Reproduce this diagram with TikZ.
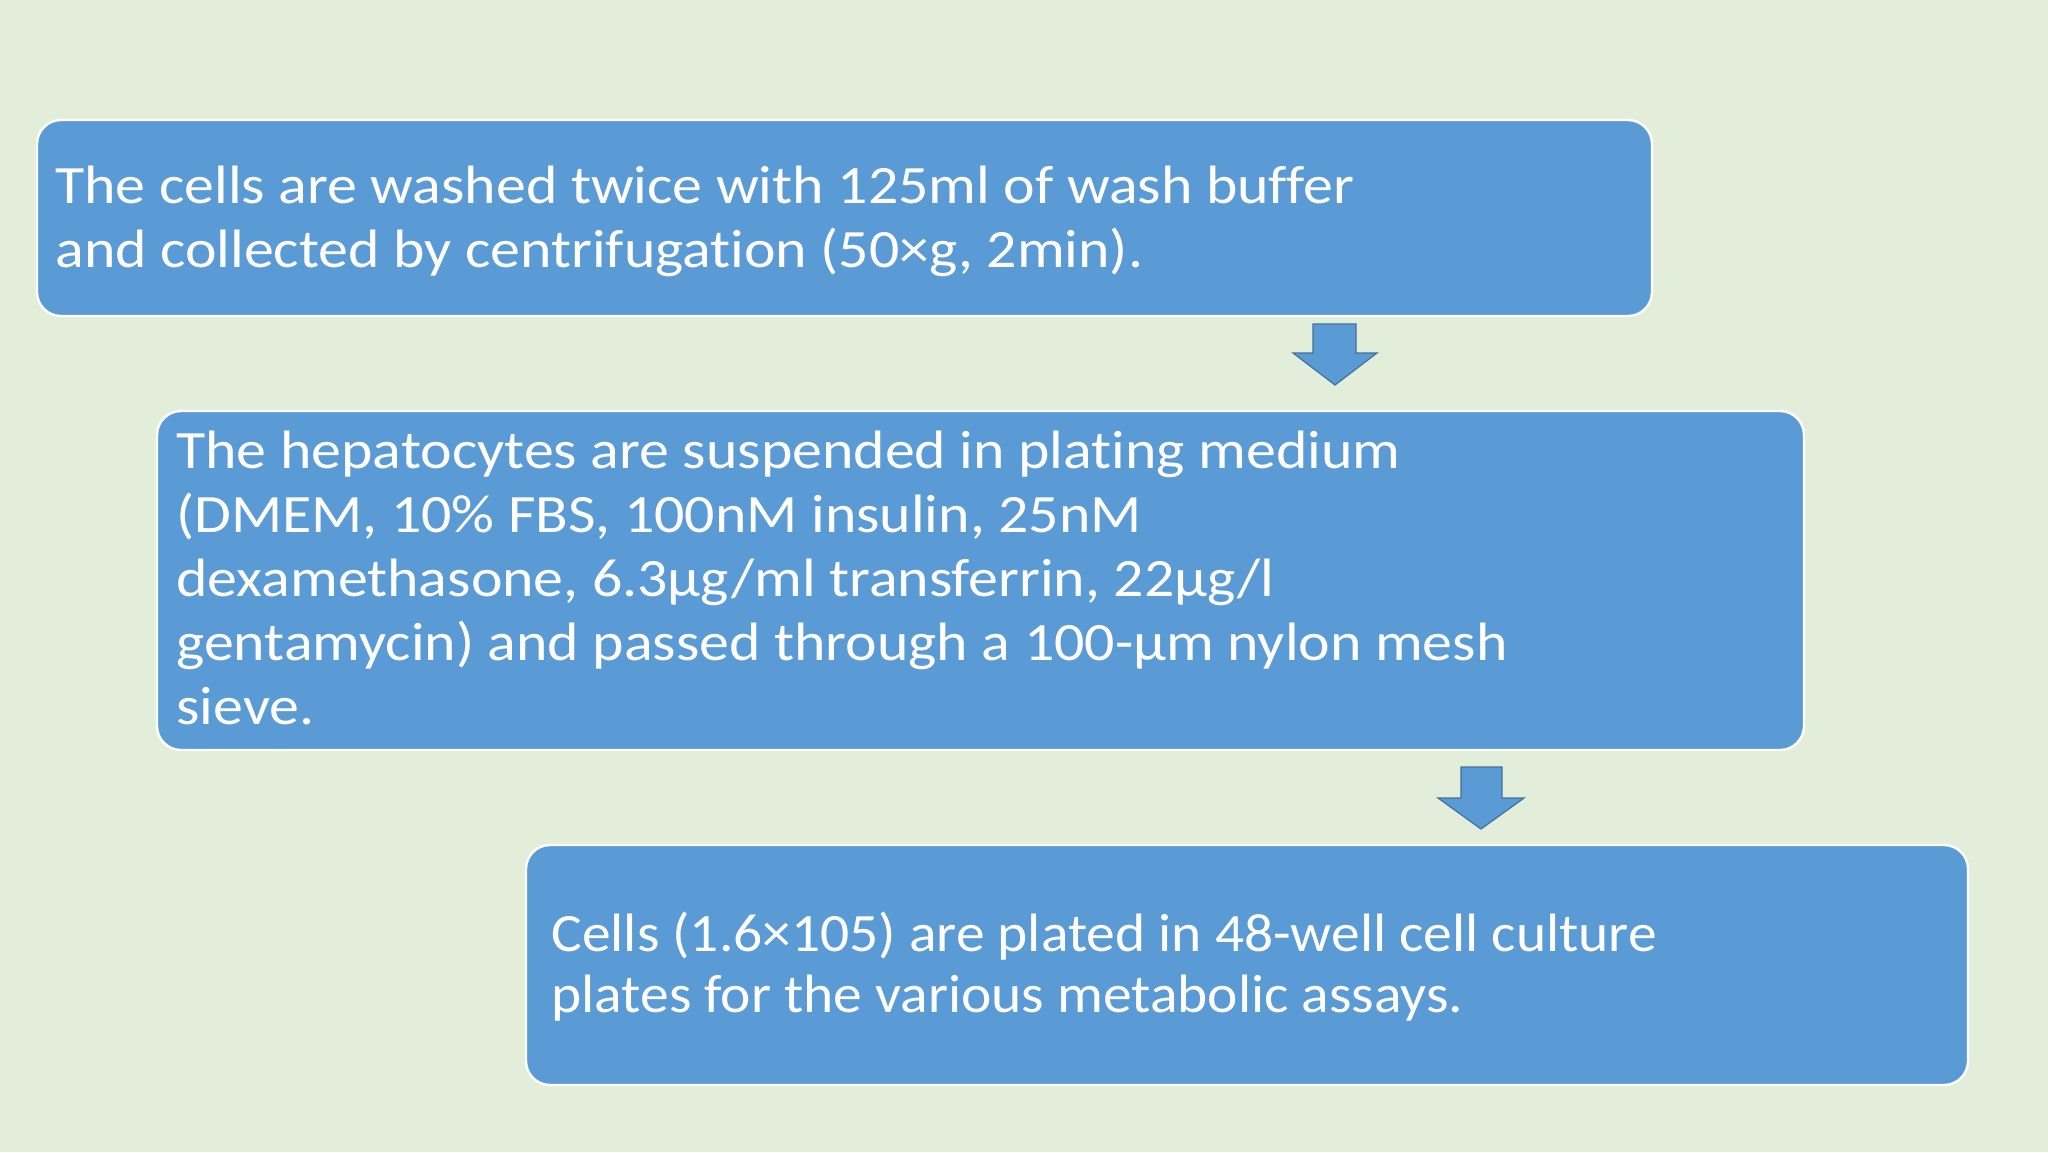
\documentclass[tikz,border=0pt]{standalone}
\usepackage{fontspec}
\setmainfont{Carlito}[FakeStretch=1.108, Ligatures=NoCommon]
\newfontfamily\narrowfont{Carlito}[FakeStretch=1.065, Ligatures=NoCommon]
\definecolor{bg}{HTML}{E3EEDA}
\definecolor{boxblue}{HTML}{5B9BD5}
\definecolor{arrowline}{HTML}{41719C}
\tikzset{
  stepbox/.style={fill=boxblue, draw=white, line width=1.2pt, rounded corners=12pt},
  steptext/.style={anchor=north west, align=left, inner sep=0pt, text=white,
    font=\fontsize{27}{32}\selectfont},
  blockarrow/.style={fill=boxblue, draw=arrowline, line width=0.6pt, line join=miter}
}
\begin{document}
\begin{tikzpicture}[x=0.5pt, y=-0.5pt]
\fill[bg] (0,0) rectangle (2048,1152);
\useasboundingbox (0,0) rectangle (2048,1152);
% boxes
\draw[stepbox] (37,120) rectangle (1652,316);
\draw[stepbox] (157,411) rectangle (1804,750);
\draw[stepbox] (526,845) rectangle (1968,1085);
% texts
\node[steptext] (t1) at (55,166) {The cells are washed twice with 125ml of wash buffer\\and collected by centrifugation (50×g, 2min).};
\node[steptext] (t2) at (176,431) {The hepatocytes are suspended in plating medium\\(DMEM, 10\% FBS, 100nM insulin, 25nM\\dexamethasone, 6.3µg/ml transferrin, 22µg/l\\gentamycin) and passed through a 100-µm nylon mesh\\sieve.};
\node[steptext, font=\narrowfont\fontsize{27}{30.5}\selectfont] (t3) at (551,912) {Cells (1.6×105) are plated in 48-well cell culture\\plates for the various metabolic assays.};
% block arrows
\draw[blockarrow] (1313,324) -- (1356,324) -- (1356,353) -- (1377,353) -- (1335,385) -- (1293,353) -- (1313,353) -- cycle;
\draw[blockarrow] (1461,767) -- (1502,767) -- (1502,798) -- (1524,798) -- (1481,829) -- (1438,798) -- (1461,798) -- cycle;
\end{tikzpicture}
\end{document}
